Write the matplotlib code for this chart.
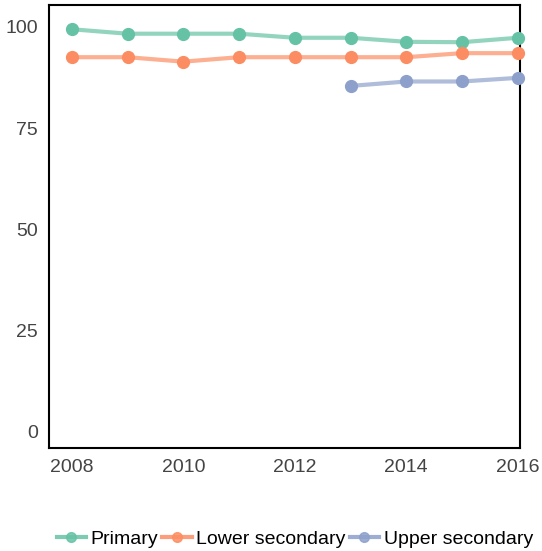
import numpy as np
import matplotlib.pyplot as plt

plt.rcParams['font.family'] = ['Liberation Sans', 'DejaVu Sans']

years = [2008, 2009, 2010, 2011, 2012, 2013, 2014, 2015, 2016]
primary = [99.4, 98.3, 98.3, 98.3, 97.3, 97.3, 96.3, 96.2, 97.3]
lower_sec = [92.5, 92.5, 91.4, 92.5, 92.5, 92.5, 92.5, 93.5, 93.5]
upper_years = [2013, 2014, 2015, 2016]
upper_sec = [85.4, 86.5, 86.5, 87.4]

series = [
    ('Primary', years, primary, '#66c2a5'),
    ('Lower secondary', years, lower_sec, '#fc8d62'),
    ('Upper secondary', upper_years, upper_sec, '#8da0cb'),
]

fig = plt.figure(figsize=(5.42, 5.51), dpi=100)
ax = fig.add_axes([0.0904, 0.187, 0.869, 0.804])

handles = []
for name, xs, ys, col in series:
    ax.plot(xs, ys, color=col, lw=3, alpha=0.7, solid_capstyle='round', clip_on=False)
    ax.plot(xs, ys, 'o', color=col, ms=8.5, clip_on=False, zorder=3)
    h, = ax.plot([], [], color=col, lw=3, marker='o', ms=7,
                 markerfacecolor=col, markeredgecolor=col)
    h.set_alpha(0.85)
    handles.append(h)

ax.set_xlim(2007.59, 2016.04)
ax.set_ylim(-4, 105.4)
ax.set_yticks([0, 25, 50, 75, 100])
ax.set_xticks([2008, 2010, 2012, 2014, 2016])
ax.tick_params(length=0, labelsize=14, labelcolor='#444444', pad=8)
for s in ax.spines.values():
    s.set_linewidth(1.5)
    s.set_color('black')

fig.legend(handles, [s[0] for s in series], loc='center', bbox_to_anchor=(0.544, 0.022),
           ncol=3, frameon=False, fontsize=14, handlelength=1.5, handletextpad=0.25,
           columnspacing=0.2, borderaxespad=0, borderpad=0)

fig.savefig('out.png', dpi=100)
